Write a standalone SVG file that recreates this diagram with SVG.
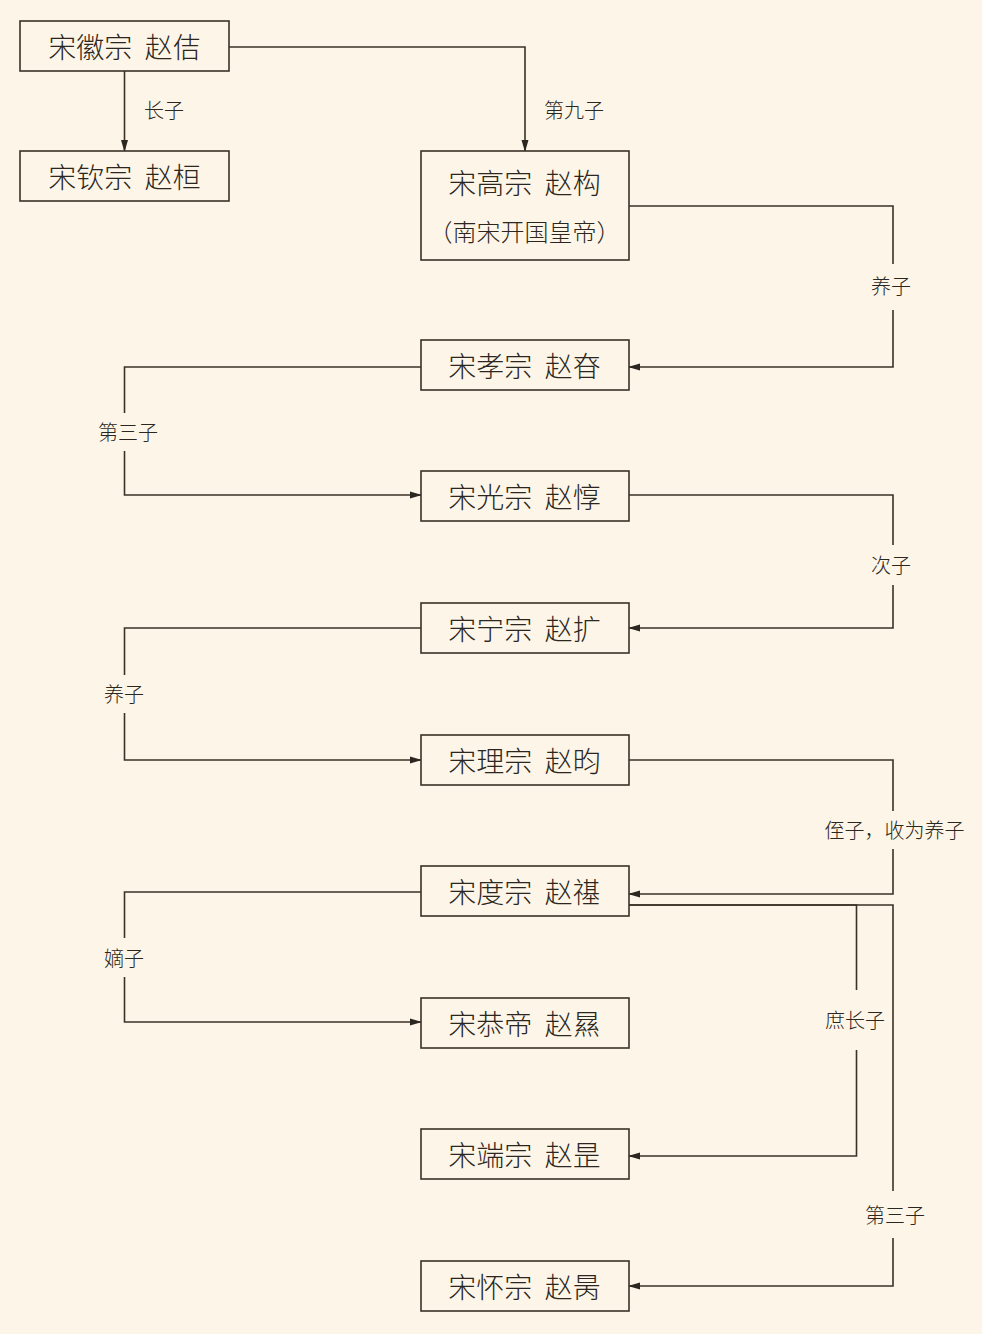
<svg xmlns="http://www.w3.org/2000/svg" width="982" height="1334" viewBox="0 0 982 1334">
<defs>
<style>
.box{fill:#fdf6e8;stroke:#3b3126;stroke-width:1.6}
.nt{font-family:"Noto Sans CJK SC","Noto Sans",sans-serif;font-weight:300;font-size:28px;fill:#2b2620;text-anchor:middle;dominant-baseline:central;white-space:pre}
.nt2{font-size:24px}
.lt{font-family:"Noto Sans CJK SC","Noto Sans",sans-serif;font-weight:300;font-size:20px;fill:#2b2620;text-anchor:middle;dominant-baseline:central}
.lb{fill:#fdf6e8;stroke:none}
.cn{fill:none;stroke:#3b3126;stroke-width:1.6}
.arr{marker-end:url(#ah)}
</style>
<marker id="ah" markerUnits="userSpaceOnUse" markerWidth="12" markerHeight="8" refX="11" refY="4" orient="auto">
<path d="M0,0.5 L12,4 L0,7.5 z" fill="#2b2620"/>
</marker>
</defs>
<rect x="0" y="0" width="982" height="1334" fill="#fdf6e8"/>

<g id="connectors">
<path class="cn arr" d="M124.5,71 V151"/>
<path class="cn arr" d="M229,47 H525 V151"/>
<path class="cn arr" d="M629,206 H893 V367 H629"/>
<path class="cn arr" d="M421,367 H124.5 V495 H421"/>
<path class="cn arr" d="M629,495 H893 V628 H629"/>
<path class="cn arr" d="M421,628 H124.5 V760 H421"/>
<path class="cn arr" d="M629,760 H893 V894 H629"/>
<path class="cn arr" d="M421,892 H124.5 V1022 H421"/>
<path class="cn arr" d="M629,905 H856.5 V1156 H629"/>
<path class="cn arr" d="M629,905 H893 V1286 H629"/>
</g>

<g id="labels">
<text class="lt" x="164" y="109">长子</text>
<text class="lt" x="574" y="109">第九子</text>
<g id="l-yangzi1"><rect class="lb" x="868" y="264" width="46" height="46"/><text class="lt" x="891" y="285">养子</text></g>
<g id="l-disanzi1"><rect class="lb" x="97" y="413" width="62" height="38"/><text class="lt" x="128" y="431">第三子</text></g>
<g id="l-cizi"><rect class="lb" x="868" y="545" width="46" height="40"/><text class="lt" x="891" y="564">次子</text></g>
<g id="l-yangzi2"><rect class="lb" x="101" y="675" width="46" height="38"/><text class="lt" x="124" y="693">养子</text></g>
<g id="l-zhizi"><rect class="lb" x="823" y="811" width="144" height="38"/><text class="lt" x="894.5" y="829">侄子，收为养子</text></g>
<g id="l-dizi"><rect class="lb" x="101" y="938" width="46" height="39"/><text class="lt" x="124" y="957">嫡子</text></g>
<g id="l-shuzhangzi"><rect class="lb" x="824" y="990" width="62" height="60"/><text class="lt" x="855" y="1019">庶长子</text></g>
<g id="l-disanzi2"><rect class="lb" x="864" y="1191" width="62" height="47"/><text class="lt" x="895" y="1214">第三子</text></g>
</g>

<g id="n-huizong"><rect class="box" x="20" y="21" width="209" height="50"/><text class="nt" x="124.5" y="46">宋徽宗  赵佶</text></g>
<g id="n-qinzong"><rect class="box" x="20" y="151" width="209" height="50"/><text class="nt" x="124.5" y="176">宋钦宗  赵桓</text></g>
<g id="n-gaozong"><rect class="box" x="421" y="151" width="208" height="109"/><text class="nt" x="524.5" y="181.5">宋高宗  赵构</text><text class="nt nt2" x="524.5" y="230">（南宋开国皇帝）</text></g>
<g id="n-xiaozong"><rect class="box" x="421" y="340" width="208" height="50"/><text class="nt" x="524.5" y="365">宋孝宗  赵昚</text></g>
<g id="n-guangzong"><rect class="box" x="421" y="471" width="208" height="50"/><text class="nt" x="524.5" y="496">宋光宗  赵惇</text></g>
<g id="n-ningzong"><rect class="box" x="421" y="603" width="208" height="50"/><text class="nt" x="524.5" y="628">宋宁宗  赵扩</text></g>
<g id="n-lizong"><rect class="box" x="421" y="735" width="208" height="50"/><text class="nt" x="524.5" y="760">宋理宗  赵昀</text></g>
<g id="n-duzong"><rect class="box" x="421" y="866" width="208" height="50"/><text class="nt" x="524.5" y="891">宋度宗  赵禥</text></g>
<g id="n-gongdi"><rect class="box" x="421" y="998" width="208" height="50"/><text class="nt" x="524.5" y="1023">宋恭帝  赵㬎</text></g>
<g id="n-duanzong"><rect class="box" x="421" y="1129" width="208" height="50"/><text class="nt" x="524.5" y="1154">宋端宗  赵昰</text></g>
<g id="n-huaizong"><rect class="box" x="421" y="1261" width="208" height="50"/><text class="nt" x="524.5" y="1286">宋怀宗  赵昺</text></g>
</svg>
